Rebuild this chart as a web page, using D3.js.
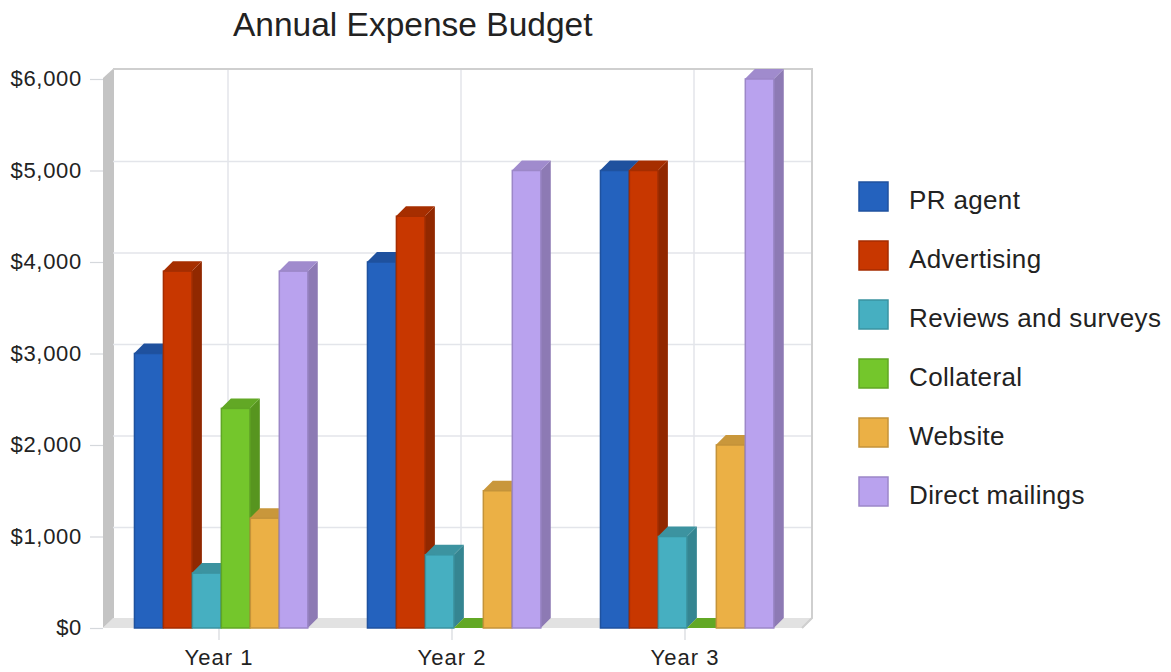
<!DOCTYPE html>
<html>
<head>
<meta charset="utf-8">
<script src="https://cdn.jsdelivr.net/npm/d3@7/dist/d3.min.js"></script>
<style>
html, body { margin: 0; padding: 0; background: #fff; }
svg { display: block; }
text { font-family: "Liberation Sans", Arial, sans-serif; fill: #222; }
</style>
</head>
<body>
<svg id="chart" width="1171" height="672"></svg>
<script>
const years = ["Year 1", "Year 2", "Year 3"];
const seriesNames = ["PR agent", "Advertising", "Reviews and surveys", "Collateral", "Website", "Direct mailings"];
const prAgent = [3000, 4000, 5000];
const advertising = [3900, 4500, 5000];
const reviews = [600, 800, 1000];
const collateral = [2400, 0, 0];
const website = [1200, 1500, 2000];
const directMailings = [3900, 5000, 6000];
const seriesValues = [prAgent, advertising, reviews, collateral, website, directMailings];
const yTicks = [0, 1000, 2000, 3000, 4000, 5000, 6000];
const frontColors = ["#2462BE", "#C83700", "#46AFC1", "#74C62C", "#EBB045", "#B9A2EE"];
const sideColors = ["#1C4A8F", "#912800", "#358591", "#57951F", "#B08434", "#8D7AB4"];
const topColors = ["#1F519E", "#A62E00", "#3C93A0", "#62A825", "#C9973B", "#A08BCD"];
const edgeColors = ["#1F529F", "#A52D00", "#3A93A0", "#60A625", "#C4933A", "#9C87C8"];

const svg = d3.select("#chart");
const depth = 10;
const plot = { left: 103, right: 803, top: 79, bottom: 628 };

// Categories sit slightly left of the box so the groups centre on the ticks
const x = d3.scaleBand().domain(years).range([plot.left - 0.5, plot.right - 1.5]);
const bar = d3.scaleBand().domain(d3.range(seriesNames.length))
  .range([x.bandwidth() * 0.135, x.bandwidth() * 0.881]);
const y = d3.scaleLinear().domain([0, 6000]).range([plot.bottom, plot.top]);
const poly = pts => pts.map(p => p.join(",")).join(" ");

// Back wall, side wall and floor of the 3D box
svg.append("polygon")
  .attr("points", poly([[plot.left, plot.top - 1], [plot.left + depth + 1, plot.top - depth - 1], [plot.left + depth + 1, plot.bottom - depth], [plot.left, plot.bottom]]))
  .attr("fill", "#C4C4C4");
svg.append("polygon")
  .attr("points", poly([[plot.left, plot.bottom], [plot.left + depth, plot.bottom - depth], [plot.right + depth, plot.bottom - depth], [plot.right, plot.bottom]]))
  .attr("fill", "#E2E2E2");

// Grid lines on the back wall
svg.append("g").selectAll("line").data(yTicks.slice(1, -1)).join("line")
  .attr("x1", plot.left + depth).attr("x2", plot.right + depth - 1)
  .attr("y1", d => y(d) - depth + 1).attr("y2", d => y(d) - depth + 1)
  .attr("stroke", "#E3E5EA").attr("stroke-width", 1.5);
svg.append("g").selectAll("line").data(years).join("line")
  .attr("x1", d => x(d) + x.bandwidth() / 2 + depth - 1).attr("x2", d => x(d) + x.bandwidth() / 2 + depth - 1)
  .attr("y1", plot.top - depth).attr("y2", plot.bottom - depth)
  .attr("stroke", "#E3E5EA").attr("stroke-width", 1.5);
svg.append("path")
  .attr("d", `M${plot.left + depth},${plot.top - depth}H${plot.right + depth - 1}V${plot.bottom - depth}L${plot.right - 1},${plot.bottom}`)
  .attr("fill", "none").attr("stroke", "#CFCFCF").attr("stroke-width", 2);

// Axes
const yAxis = d3.axisLeft(y).tickValues(yTicks).tickSize(13).tickPadding(8)
  .tickFormat(d => "$" + d3.format(",")(d));
const yG = svg.append("g").attr("transform", `translate(${plot.left},0)`).call(yAxis);
yG.select(".domain").remove();
yG.selectAll("line").attr("stroke", "#D5D8DC").attr("stroke-width", 1.2);
yG.selectAll("text")
  .style("font-size", "22px").style("letter-spacing", "0.7px")
  .attr("dy", "0.3em").attr("x", -21);

const xAxis = d3.axisBottom(x).tickSize(12).tickPadding(9);
const xG = svg.append("g").attr("transform", `translate(0,${plot.bottom})`).call(xAxis);
xG.select(".domain").remove();
xG.selectAll("line").attr("stroke", "#D5D8DC").attr("stroke-width", 1.2);
xG.selectAll("text").style("font-size", "22px").style("letter-spacing", "1px");

// Extruded bars, painted left to right so each front face covers its neighbour's side
years.forEach((year, yi) => {
  seriesValues.forEach((values, si) => {
    const x0 = x(year) + bar(si);
    const x1 = x0 + bar.bandwidth();
    const yTop = y(values[yi]);
    const g = svg.append("g");
    g.append("polygon")
      .attr("points", poly([[x1, yTop], [x1 + depth, yTop - depth], [x1 + depth, plot.bottom - depth], [x1, plot.bottom]]))
      .attr("fill", sideColors[si]);
    g.append("polygon")
      .attr("points", poly([[x0, yTop], [x0 + depth, yTop - depth], [x1 + depth, yTop - depth], [x1, yTop]]))
      .attr("fill", topColors[si]);
    g.append("rect")
      .attr("x", x0 + 0.5).attr("y", yTop)
      .attr("width", bar.bandwidth() - 0.5).attr("height", plot.bottom - yTop)
      .attr("fill", frontColors[si])
      .attr("stroke", edgeColors[si]).attr("stroke-width", values[yi] > 0 ? 1.5 : 0);
  });
});

// Legend
const legendY = d3.scalePoint().domain(seriesNames).range([197, 492]);
const legend = svg.append("g").selectAll("g").data(seriesNames).join("g")
  .attr("transform", d => `translate(859,${legendY(d)})`);
legend.append("rect")
  .attr("x", 0).attr("y", -15).attr("width", 29).attr("height", 29)
  .attr("fill", (d, i) => frontColors[i])
  .attr("stroke", (d, i) => edgeColors[i]).attr("stroke-width", 1.5);
legend.append("text")
  .attr("x", 50).attr("y", 12)
  .style("font-size", "26px").style("letter-spacing", "0.35px")
  .text(d => d);

// Title
svg.append("text")
  .attr("x", 233).attr("y", 36)
  .style("font-size", "33.5px")
  .text("Annual Expense Budget");
</script>
</body>
</html>
